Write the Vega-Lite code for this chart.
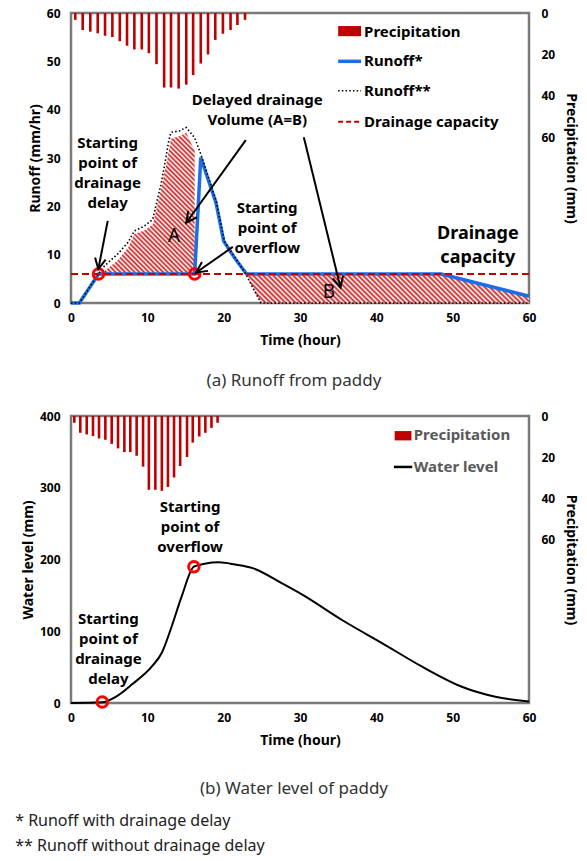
{
  "$schema": "https://vega.github.io/schema/vega-lite/v6.json",
  "padding": {"left": 15, "top": 5, "right": 3, "bottom": 5},
  "background": "white",
  "config": {
    "font": "Noto Sans",
    "view": {"stroke": "#7a7a7a", "strokeWidth": 2.5},
    "axis": {"labelFont": "Noto Sans", "labelFontWeight": "bold", "labelFontSize": 12, "labelColor": "#000", "titleFont": "Noto Sans", "titleFontSize": 14, "titleFontWeight": "bold", "titleColor": "#000", "ticks": false, "grid": false, "domain": false, "labelPadding": 11, "titlePadding": 4},
    "axisX": {"labelPadding": 9, "titlePadding": 10, "labelFlush": false},
    "title": {"font": "Noto Sans", "fontWeight": "normal", "color": "#333"}
  },
  "title": {"text": ["* Runoff with drainage delay", "** Runoff without drainage delay"], "orient": "bottom", "anchor": "start", "frame": "bounds", "fontSize": 16, "lineHeight": 25, "offset": 15, "dx": -5, "color": "#222"},
  "spacing": 17,
  "vconcat": [
    {
      "width": 458, "height": 290,
      "title": {"text": "(a) Runoff from paddy", "orient": "bottom", "fontSize": 17, "offset": 26, "anchor": "middle", "frame": "group", "dx": -6},
      "resolve": {"scale": {"y": "independent"}, "axis": {"y": "independent"}},
      "layer": [
        {
          "data": {"values": [
            {"t": 0.56, "p": 3.3}, {"t": 1.53, "p": 8.2}, {"t": 2.53, "p": 9.0}, {"t": 3.5, "p": 9.8}, {"t": 4.46, "p": 11.0}, {"t": 5.42, "p": 11.6},
            {"t": 6.39, "p": 13.6}, {"t": 7.34, "p": 15.8}, {"t": 8.3, "p": 17.6}, {"t": 9.27, "p": 17.6}, {"t": 10.2, "p": 19.4}, {"t": 11.2, "p": 24.7},
            {"t": 12.2, "p": 36.0}, {"t": 13.1, "p": 36.0}, {"t": 14.1, "p": 36.5}, {"t": 15.1, "p": 34.6}, {"t": 16.0, "p": 30.0}, {"t": 17.0, "p": 24.4},
            {"t": 17.95, "p": 20.0}, {"t": 18.9, "p": 13.0}, {"t": 19.9, "p": 10.0}, {"t": 20.9, "p": 8.2}, {"t": 21.8, "p": 5.8}, {"t": 22.8, "p": 3.3}
          ]},
          "mark": {"type": "bar", "orient": "vertical", "size": 2.6, "color": "#c00000"},
          "encoding": {
            "x": {"field": "t", "type": "quantitative", "scale": {"domain": [0, 60], "nice": false, "padding": 0}, "axis": {"values": [0, 10, 20, 30, 40, 50, 60], "title": "Time (hour)"}},
            "y": {"field": "p", "type": "quantitative", "scale": {"domain": [0, 140], "reverse": true, "nice": false, "padding": 0}, "axis": {"orient": "right", "values": [0, 20, 40, 60], "title": "Precipitation (mm)", "labelPadding": 12, "titlePadding": 9}}
          }
        },
        {
          "layer": [
            {
              "data": {"values": [
                {"t": 3.6, "top": 6, "bot": 6}, {"t": 4.4, "top": 6.6, "bot": 6}, {"t": 6.1, "top": 8.8, "bot": 6},
                {"t": 7.5, "top": 11.5, "bot": 6}, {"t": 8.3, "top": 14.3, "bot": 6}, {"t": 9.6, "top": 15.0, "bot": 6},
                {"t": 10.7, "top": 16.2, "bot": 6}, {"t": 11.8, "top": 23.5, "bot": 6}, {"t": 12.7, "top": 30.5, "bot": 6},
                {"t": 13.1, "top": 34.0, "bot": 6}, {"t": 14.2, "top": 34.5, "bot": 6}, {"t": 15.1, "top": 35.2, "bot": 6},
                {"t": 15.9, "top": 32.5, "bot": 6}, {"t": 16.2, "top": 31.5, "bot": 6}
              ]},
              "mark": {"type": "area", "orient": "vertical", "color": {"gradient": "linear", "x1": 0, "y1": 1, "x2": 0.782, "y2": -0.148, "stops": [
                {"offset": 0, "color": "#cc1a1a"}, {"offset": 0.01, "color": "#ffffff"}, {"offset": 0.02, "color": "#cc1a1a"}, {"offset": 0.03, "color": "#ffffff"}, {"offset": 0.04, "color": "#cc1a1a"}, {"offset": 0.05, "color": "#ffffff"}, {"offset": 0.06, "color": "#cc1a1a"}, {"offset": 0.07, "color": "#ffffff"}, {"offset": 0.08, "color": "#cc1a1a"}, {"offset": 0.09, "color": "#ffffff"},
                {"offset": 0.1, "color": "#cc1a1a"}, {"offset": 0.11, "color": "#ffffff"}, {"offset": 0.12, "color": "#cc1a1a"}, {"offset": 0.13, "color": "#ffffff"}, {"offset": 0.14, "color": "#cc1a1a"}, {"offset": 0.15, "color": "#ffffff"}, {"offset": 0.16, "color": "#cc1a1a"}, {"offset": 0.17, "color": "#ffffff"}, {"offset": 0.18, "color": "#cc1a1a"}, {"offset": 0.19, "color": "#ffffff"},
                {"offset": 0.2, "color": "#cc1a1a"}, {"offset": 0.21, "color": "#ffffff"}, {"offset": 0.22, "color": "#cc1a1a"}, {"offset": 0.23, "color": "#ffffff"}, {"offset": 0.24, "color": "#cc1a1a"}, {"offset": 0.25, "color": "#ffffff"}, {"offset": 0.26, "color": "#cc1a1a"}, {"offset": 0.27, "color": "#ffffff"}, {"offset": 0.28, "color": "#cc1a1a"}, {"offset": 0.29, "color": "#ffffff"},
                {"offset": 0.3, "color": "#cc1a1a"}, {"offset": 0.31, "color": "#ffffff"}, {"offset": 0.32, "color": "#cc1a1a"}, {"offset": 0.33, "color": "#ffffff"}, {"offset": 0.34, "color": "#cc1a1a"}, {"offset": 0.35, "color": "#ffffff"}, {"offset": 0.36, "color": "#cc1a1a"}, {"offset": 0.37, "color": "#ffffff"}, {"offset": 0.38, "color": "#cc1a1a"}, {"offset": 0.39, "color": "#ffffff"},
                {"offset": 0.4, "color": "#cc1a1a"}, {"offset": 0.41, "color": "#ffffff"}, {"offset": 0.42, "color": "#cc1a1a"}, {"offset": 0.43, "color": "#ffffff"}, {"offset": 0.44, "color": "#cc1a1a"}, {"offset": 0.45, "color": "#ffffff"}, {"offset": 0.46, "color": "#cc1a1a"}, {"offset": 0.47, "color": "#ffffff"}, {"offset": 0.48, "color": "#cc1a1a"}, {"offset": 0.49, "color": "#ffffff"},
                {"offset": 0.5, "color": "#cc1a1a"}, {"offset": 0.51, "color": "#ffffff"}, {"offset": 0.52, "color": "#cc1a1a"}, {"offset": 0.53, "color": "#ffffff"}, {"offset": 0.54, "color": "#cc1a1a"}, {"offset": 0.55, "color": "#ffffff"}, {"offset": 0.56, "color": "#cc1a1a"}, {"offset": 0.57, "color": "#ffffff"}, {"offset": 0.58, "color": "#cc1a1a"}, {"offset": 0.59, "color": "#ffffff"},
                {"offset": 0.6, "color": "#cc1a1a"}, {"offset": 0.61, "color": "#ffffff"}, {"offset": 0.62, "color": "#cc1a1a"}, {"offset": 0.63, "color": "#ffffff"}, {"offset": 0.64, "color": "#cc1a1a"}, {"offset": 0.65, "color": "#ffffff"}, {"offset": 0.66, "color": "#cc1a1a"}, {"offset": 0.67, "color": "#ffffff"}, {"offset": 0.68, "color": "#cc1a1a"}, {"offset": 0.69, "color": "#ffffff"},
                {"offset": 0.7, "color": "#cc1a1a"}, {"offset": 0.71, "color": "#ffffff"}, {"offset": 0.72, "color": "#cc1a1a"}, {"offset": 0.73, "color": "#ffffff"}, {"offset": 0.74, "color": "#cc1a1a"}, {"offset": 0.75, "color": "#ffffff"}, {"offset": 0.76, "color": "#cc1a1a"}, {"offset": 0.77, "color": "#ffffff"}, {"offset": 0.78, "color": "#cc1a1a"}, {"offset": 0.79, "color": "#ffffff"},
                {"offset": 0.8, "color": "#cc1a1a"}, {"offset": 0.81, "color": "#ffffff"}, {"offset": 0.82, "color": "#cc1a1a"}, {"offset": 0.83, "color": "#ffffff"}, {"offset": 0.84, "color": "#cc1a1a"}, {"offset": 0.85, "color": "#ffffff"}, {"offset": 0.86, "color": "#cc1a1a"}, {"offset": 0.87, "color": "#ffffff"}, {"offset": 0.88, "color": "#cc1a1a"}, {"offset": 0.89, "color": "#ffffff"},
                {"offset": 0.9, "color": "#cc1a1a"}, {"offset": 0.91, "color": "#ffffff"}, {"offset": 0.92, "color": "#cc1a1a"}, {"offset": 0.93, "color": "#ffffff"}, {"offset": 0.94, "color": "#cc1a1a"}, {"offset": 0.95, "color": "#ffffff"}, {"offset": 0.96, "color": "#cc1a1a"}, {"offset": 0.97, "color": "#ffffff"}, {"offset": 0.98, "color": "#cc1a1a"}, {"offset": 0.99, "color": "#ffffff"},
                {"offset": 1, "color": "#cc1a1a"}
              ]}},
              "encoding": {
                "x": {"field": "t", "type": "quantitative"},
                "y": {"field": "top", "type": "quantitative", "scale": {"domain": [0, 60], "nice": false}, "axis": {"orient": "left", "values": [0, 10, 20, 30, 40, 50, 60], "title": "Runoff (mm/hr)"}},
                "y2": {"field": "bot"}
              }
            },
            {
              "data": {"values": [
                {"t": 22.9, "top": 6, "bot": 6}, {"t": 23.8, "top": 6, "bot": 3.2}, {"t": 24.9, "top": 6, "bot": 0},
                {"t": 48.5, "top": 6, "bot": 0}, {"t": 60, "top": 1.4, "bot": 0}
              ]},
              "mark": {"type": "area", "orient": "vertical", "color": {"gradient": "linear", "x1": 0, "y1": 1, "x2": 1.091, "y2": 0.888, "stops": [
                {"offset": 0, "color": "#cc1a1a"}, {"offset": 0.008, "color": "#ffffff"}, {"offset": 0.016, "color": "#cc1a1a"}, {"offset": 0.024, "color": "#ffffff"}, {"offset": 0.032, "color": "#cc1a1a"}, {"offset": 0.04, "color": "#ffffff"}, {"offset": 0.048, "color": "#cc1a1a"}, {"offset": 0.056, "color": "#ffffff"}, {"offset": 0.064, "color": "#cc1a1a"}, {"offset": 0.072, "color": "#ffffff"},
                {"offset": 0.08, "color": "#cc1a1a"}, {"offset": 0.088, "color": "#ffffff"}, {"offset": 0.096, "color": "#cc1a1a"}, {"offset": 0.104, "color": "#ffffff"}, {"offset": 0.112, "color": "#cc1a1a"}, {"offset": 0.12, "color": "#ffffff"}, {"offset": 0.128, "color": "#cc1a1a"}, {"offset": 0.136, "color": "#ffffff"}, {"offset": 0.144, "color": "#cc1a1a"}, {"offset": 0.152, "color": "#ffffff"},
                {"offset": 0.16, "color": "#cc1a1a"}, {"offset": 0.168, "color": "#ffffff"}, {"offset": 0.176, "color": "#cc1a1a"}, {"offset": 0.184, "color": "#ffffff"}, {"offset": 0.192, "color": "#cc1a1a"}, {"offset": 0.2, "color": "#ffffff"}, {"offset": 0.208, "color": "#cc1a1a"}, {"offset": 0.216, "color": "#ffffff"}, {"offset": 0.224, "color": "#cc1a1a"}, {"offset": 0.232, "color": "#ffffff"},
                {"offset": 0.24, "color": "#cc1a1a"}, {"offset": 0.248, "color": "#ffffff"}, {"offset": 0.256, "color": "#cc1a1a"}, {"offset": 0.264, "color": "#ffffff"}, {"offset": 0.272, "color": "#cc1a1a"}, {"offset": 0.28, "color": "#ffffff"}, {"offset": 0.288, "color": "#cc1a1a"}, {"offset": 0.296, "color": "#ffffff"}, {"offset": 0.304, "color": "#cc1a1a"}, {"offset": 0.312, "color": "#ffffff"},
                {"offset": 0.32, "color": "#cc1a1a"}, {"offset": 0.328, "color": "#ffffff"}, {"offset": 0.336, "color": "#cc1a1a"}, {"offset": 0.344, "color": "#ffffff"}, {"offset": 0.352, "color": "#cc1a1a"}, {"offset": 0.36, "color": "#ffffff"}, {"offset": 0.368, "color": "#cc1a1a"}, {"offset": 0.376, "color": "#ffffff"}, {"offset": 0.384, "color": "#cc1a1a"}, {"offset": 0.392, "color": "#ffffff"},
                {"offset": 0.4, "color": "#cc1a1a"}, {"offset": 0.408, "color": "#ffffff"}, {"offset": 0.416, "color": "#cc1a1a"}, {"offset": 0.424, "color": "#ffffff"}, {"offset": 0.432, "color": "#cc1a1a"}, {"offset": 0.44, "color": "#ffffff"}, {"offset": 0.448, "color": "#cc1a1a"}, {"offset": 0.456, "color": "#ffffff"}, {"offset": 0.464, "color": "#cc1a1a"}, {"offset": 0.472, "color": "#ffffff"},
                {"offset": 0.48, "color": "#cc1a1a"}, {"offset": 0.488, "color": "#ffffff"}, {"offset": 0.496, "color": "#cc1a1a"}, {"offset": 0.504, "color": "#ffffff"}, {"offset": 0.512, "color": "#cc1a1a"}, {"offset": 0.52, "color": "#ffffff"}, {"offset": 0.528, "color": "#cc1a1a"}, {"offset": 0.536, "color": "#ffffff"}, {"offset": 0.544, "color": "#cc1a1a"}, {"offset": 0.552, "color": "#ffffff"},
                {"offset": 0.56, "color": "#cc1a1a"}, {"offset": 0.568, "color": "#ffffff"}, {"offset": 0.576, "color": "#cc1a1a"}, {"offset": 0.584, "color": "#ffffff"}, {"offset": 0.592, "color": "#cc1a1a"}, {"offset": 0.6, "color": "#ffffff"}, {"offset": 0.608, "color": "#cc1a1a"}, {"offset": 0.616, "color": "#ffffff"}, {"offset": 0.624, "color": "#cc1a1a"}, {"offset": 0.632, "color": "#ffffff"},
                {"offset": 0.64, "color": "#cc1a1a"}, {"offset": 0.648, "color": "#ffffff"}, {"offset": 0.656, "color": "#cc1a1a"}, {"offset": 0.664, "color": "#ffffff"}, {"offset": 0.672, "color": "#cc1a1a"}, {"offset": 0.68, "color": "#ffffff"}, {"offset": 0.688, "color": "#cc1a1a"}, {"offset": 0.696, "color": "#ffffff"}, {"offset": 0.704, "color": "#cc1a1a"}, {"offset": 0.712, "color": "#ffffff"},
                {"offset": 0.72, "color": "#cc1a1a"}, {"offset": 0.728, "color": "#ffffff"}, {"offset": 0.736, "color": "#cc1a1a"}, {"offset": 0.744, "color": "#ffffff"}, {"offset": 0.752, "color": "#cc1a1a"}, {"offset": 0.76, "color": "#ffffff"}, {"offset": 0.768, "color": "#cc1a1a"}, {"offset": 0.776, "color": "#ffffff"}, {"offset": 0.784, "color": "#cc1a1a"}, {"offset": 0.792, "color": "#ffffff"},
                {"offset": 0.8, "color": "#cc1a1a"}, {"offset": 0.808, "color": "#ffffff"}, {"offset": 0.816, "color": "#cc1a1a"}, {"offset": 0.824, "color": "#ffffff"}, {"offset": 0.832, "color": "#cc1a1a"}, {"offset": 0.84, "color": "#ffffff"}, {"offset": 0.848, "color": "#cc1a1a"}, {"offset": 0.856, "color": "#ffffff"}, {"offset": 0.864, "color": "#cc1a1a"}, {"offset": 0.872, "color": "#ffffff"},
                {"offset": 0.88, "color": "#cc1a1a"}, {"offset": 0.888, "color": "#ffffff"}, {"offset": 0.896, "color": "#cc1a1a"}, {"offset": 0.904, "color": "#ffffff"}, {"offset": 0.912, "color": "#cc1a1a"}, {"offset": 0.92, "color": "#ffffff"}, {"offset": 0.928, "color": "#cc1a1a"}, {"offset": 0.936, "color": "#ffffff"}, {"offset": 0.944, "color": "#cc1a1a"}, {"offset": 0.952, "color": "#ffffff"},
                {"offset": 0.96, "color": "#cc1a1a"}, {"offset": 0.968, "color": "#ffffff"}, {"offset": 0.976, "color": "#cc1a1a"}, {"offset": 0.984, "color": "#ffffff"}, {"offset": 0.992, "color": "#cc1a1a"}, {"offset": 1, "color": "#ffffff"}
              ]}},
              "encoding": {
                "x": {"field": "t", "type": "quantitative"},
                "y": {"field": "top", "type": "quantitative"},
                "y2": {"field": "bot"}
              }
            },
            {
              "data": {"values": [
                {"t": 0, "v": 0}, {"t": 1.1, "v": 0}, {"t": 3.6, "v": 6}, {"t": 16.2, "v": 6}, {"t": 17.0, "v": 30.1}, {"t": 19.0, "v": 20.7},
                {"t": 20.0, "v": 12.8}, {"t": 21.4, "v": 9.4}, {"t": 23.0, "v": 6}, {"t": 48.5, "v": 6}, {"t": 60, "v": 1.4}
              ]},
              "mark": {"type": "line", "color": "#1a6ee8", "strokeWidth": 3.5},
              "encoding": {"x": {"field": "t", "type": "quantitative"}, "y": {"field": "v", "type": "quantitative"}}
            },
            {
              "data": {"values": [
                {"t": 0, "v": 0}, {"t": 1.1, "v": 0}, {"t": 3.6, "v": 6}, {"t": 4.4, "v": 7.7}, {"t": 6.1, "v": 10.1}, {"t": 7.5, "v": 12.6},
                {"t": 8.3, "v": 14.9}, {"t": 9.6, "v": 15.9}, {"t": 10.7, "v": 17.3}, {"t": 11.8, "v": 24.6}, {"t": 12.2, "v": 28.0}, {"t": 12.8, "v": 33.5},
                {"t": 13.1, "v": 35.3}, {"t": 14.2, "v": 35.6}, {"t": 15.1, "v": 36.3}, {"t": 16.2, "v": 34.2}, {"t": 17.0, "v": 30.8}, {"t": 19.0, "v": 21.2},
                {"t": 20.1, "v": 12.8}, {"t": 21.4, "v": 9.6}, {"t": 22.9, "v": 6}, {"t": 23.8, "v": 3.2}, {"t": 24.9, "v": 0}, {"t": 60, "v": 0}
              ]},
              "mark": {"type": "line", "color": "#000", "strokeWidth": 1.6, "strokeDash": [1.5, 2.2]},
              "encoding": {"x": {"field": "t", "type": "quantitative"}, "y": {"field": "v", "type": "quantitative"}}
            },
            {
              "data": {"values": [{"t": 0, "v": 6}, {"t": 60, "v": 6}]},
              "mark": {"type": "line", "color": "#c00000", "strokeWidth": 2, "strokeDash": [7, 4]},
              "encoding": {"x": {"field": "t", "type": "quantitative"}, "y": {"field": "v", "type": "quantitative"}}
            },
            {
              "data": {"values": [{"t": 3.6, "v": 6}, {"t": 16.2, "v": 6}]},
              "mark": {"type": "point", "shape": "circle", "filled": false, "color": "#ff0000", "strokeWidth": 3, "size": 110, "opacity": 1},
              "encoding": {"x": {"field": "t", "type": "quantitative"}, "y": {"field": "v", "type": "quantitative"}}
            },
            {
              "data": {"values": [
                {"t": 4.81, "v": 17.0, "t2": 3.58, "v2": 7.0, "ang": 191},
                {"t": 22.9, "v": 33.7, "t2": 15.1, "v2": 16.6, "ang": 216},
                {"t": 30.5, "v": 34.3, "t2": 35.3, "v2": 3.2, "ang": 166.3},
                {"t": 21.2, "v": 11.6, "t2": 16.4, "v2": 6.3, "ang": 235.4}
              ]},
              "layer": [
                {
                  "mark": {"type": "rule", "color": "#000", "strokeWidth": 2},
                  "encoding": {"x": {"field": "t", "type": "quantitative"}, "y": {"field": "v", "type": "quantitative"}, "x2": {"field": "t2"}, "y2": {"field": "v2"}}
                },
                {
                  "mark": {"type": "point", "shape": "M-0.55,1.1L0,0L0.55,1.1", "filled": false, "color": "#000", "strokeWidth": 2, "size": 380, "opacity": 1},
                  "encoding": {"x": {"field": "t2", "type": "quantitative"}, "y": {"field": "v2", "type": "quantitative"}, "angle": {"field": "ang", "type": "quantitative", "scale": null}}
                }
              ]
            },
            {
              "data": {"values": [
                {"t": 4.8, "v": 33.17, "s": "Starting\npoint of\ndrainage\ndelay"},
                {"t": 24.4, "v": 42.0, "s": "Delayed drainage\nVolume (A=B)"},
                {"t": 25.7, "v": 19.7, "s": "Starting\npoint of\noverflow"}
              ]},
              "mark": {"type": "text", "fontWeight": "bold", "fontSize": 15, "lineHeight": 20, "lineBreak": "\n", "align": "center", "baseline": "middle", "color": "#000"},
              "encoding": {"x": {"field": "t", "type": "quantitative"}, "y": {"field": "v", "type": "quantitative"}, "text": {"field": "s"}}
            },
            {
              "data": {"values": [
                {"t": 53.3, "v": 14.2, "s": "Drainage\ncapacity"}
              ]},
              "mark": {"type": "text", "fontWeight": "bold", "fontSize": 18, "lineHeight": 24, "lineBreak": "\n", "align": "center", "baseline": "middle", "color": "#000"},
              "encoding": {"x": {"field": "t", "type": "quantitative"}, "y": {"field": "v", "type": "quantitative"}, "text": {"field": "s"}}
            },
            {
              "data": {"values": [
                {"t": 13.5, "v": 13.9, "s": "A"},
                {"t": 33.8, "v": 2.3, "s": "B"}
              ]},
              "mark": {"type": "text", "fontWeight": "normal", "fontSize": 19, "align": "center", "baseline": "middle", "color": "#000"},
              "encoding": {"x": {"field": "t", "type": "quantitative"}, "y": {"field": "v", "type": "quantitative"}, "text": {"field": "s"}}
            },
            {
              "data": {"values": [{"t": 35.0, "t2": 38.0, "v": 57.3, "v2": 55.2}]},
              "mark": {"type": "rect", "color": "#c00000"},
              "encoding": {"x": {"field": "t", "type": "quantitative"}, "x2": {"field": "t2"}, "y": {"field": "v", "type": "quantitative"}, "y2": {"field": "v2"}}
            },
            {
              "data": {"values": [{"t": 35.0, "t2": 38.0, "v": 50.0}]},
              "mark": {"type": "rule", "color": "#1a6ee8", "strokeWidth": 3.5},
              "encoding": {"x": {"field": "t", "type": "quantitative"}, "x2": {"field": "t2"}, "y": {"field": "v", "type": "quantitative"}}
            },
            {
              "data": {"values": [{"t": 35.0, "t2": 38.0, "v": 43.9}]},
              "mark": {"type": "rule", "color": "#000", "strokeWidth": 1.6, "strokeDash": [1.5, 2.2]},
              "encoding": {"x": {"field": "t", "type": "quantitative"}, "x2": {"field": "t2"}, "y": {"field": "v", "type": "quantitative"}}
            },
            {
              "data": {"values": [{"t": 35.0, "t2": 38.0, "v": 37.5}]},
              "mark": {"type": "rule", "color": "#c00000", "strokeWidth": 2, "strokeDash": [5, 3]},
              "encoding": {"x": {"field": "t", "type": "quantitative"}, "x2": {"field": "t2"}, "y": {"field": "v", "type": "quantitative"}}
            },
            {
              "data": {"values": [
                {"t": 38.4, "v": 56.1, "s": "Precipitation"},
                {"t": 38.4, "v": 50.0, "s": "Runoff*"},
                {"t": 38.4, "v": 43.9, "s": "Runoff**"},
                {"t": 38.4, "v": 37.5, "s": "Drainage capacity"}
              ]},
              "mark": {"type": "text", "fontWeight": "bold", "fontSize": 15, "align": "left", "baseline": "middle", "color": "#000"},
              "encoding": {"x": {"field": "t", "type": "quantitative"}, "y": {"field": "v", "type": "quantitative"}, "text": {"field": "s"}}
            }
          ]
        }
      ]
    },
    {
      "width": 458, "height": 287,
      "title": {"text": "(b) Water level of paddy", "orient": "bottom", "fontSize": 17, "offset": 34, "anchor": "middle", "frame": "group", "dx": -6},
      "resolve": {"scale": {"y": "independent"}, "axis": {"y": "independent"}},
      "layer": [
        {
          "data": {"values": [
            {"t": 0.43, "p": 3.3}, {"t": 1.22, "p": 8.2}, {"t": 2.06, "p": 9.0}, {"t": 2.88, "p": 9.8}, {"t": 3.67, "p": 11.0}, {"t": 4.5, "p": 11.6},
            {"t": 5.33, "p": 13.6}, {"t": 6.16, "p": 15.8}, {"t": 6.99, "p": 17.6}, {"t": 7.77, "p": 17.6}, {"t": 8.6, "p": 19.4}, {"t": 9.44, "p": 24.7},
            {"t": 10.2, "p": 36.0}, {"t": 11.05, "p": 36.0}, {"t": 11.9, "p": 36.5}, {"t": 12.7, "p": 34.6}, {"t": 13.5, "p": 30.0}, {"t": 14.3, "p": 24.4},
            {"t": 15.2, "p": 20.0}, {"t": 15.95, "p": 13.0}, {"t": 16.8, "p": 10.0}, {"t": 17.6, "p": 8.2}, {"t": 18.4, "p": 5.8}, {"t": 19.2, "p": 3.3}
          ]},
          "mark": {"type": "bar", "orient": "vertical", "size": 2.6, "color": "#c00000"},
          "encoding": {
            "x": {"field": "t", "type": "quantitative", "scale": {"domain": [0, 60], "nice": false, "padding": 0}, "axis": {"values": [0, 10, 20, 30, 40, 50, 60], "title": "Time (hour)"}},
            "y": {"field": "p", "type": "quantitative", "scale": {"domain": [0, 140], "reverse": true, "nice": false, "padding": 0}, "axis": {"orient": "right", "values": [0, 20, 40, 60], "title": "Precipitation (mm)", "labelPadding": 12, "titlePadding": 9}}
          }
        },
        {
          "layer": [
            {
              "data": {"values": [
                {"t": 0, "v": 0}, {"t": 4.1, "v": 1}, {"t": 6.0, "v": 9.5}, {"t": 8.0, "v": 26}, {"t": 10.6, "v": 51}, {"t": 11.9, "v": 70},
                {"t": 13.2, "v": 107}, {"t": 14.5, "v": 148.6}, {"t": 16.1, "v": 190}, {"t": 17.5, "v": 194}, {"t": 19.4, "v": 196}, {"t": 21.5, "v": 193},
                {"t": 23.9, "v": 187.6}, {"t": 27.6, "v": 167}, {"t": 30.3, "v": 151}, {"t": 35.5, "v": 115.7}, {"t": 40.8, "v": 83.2}, {"t": 46.0, "v": 50.6},
                {"t": 51.2, "v": 22.7}, {"t": 55.6, "v": 8.8}, {"t": 60, "v": 2}
              ]},
              "mark": {"type": "line", "color": "#000", "strokeWidth": 2, "interpolate": "monotone"},
              "encoding": {
                "x": {"field": "t", "type": "quantitative"},
                "y": {"field": "v", "type": "quantitative", "scale": {"domain": [0, 400], "nice": false}, "axis": {"orient": "left", "values": [0, 50, 100, 150, 200, 250, 300, 350, 400], "title": "Water level (mm)"}}
              }
            },
            {
              "data": {"values": [{"t": 4.1, "v": 1.5}, {"t": 16.1, "v": 190}]},
              "mark": {"type": "point", "shape": "circle", "filled": false, "color": "#ff0000", "strokeWidth": 3, "size": 110, "opacity": 1},
              "encoding": {"x": {"field": "t", "type": "quantitative"}, "y": {"field": "v", "type": "quantitative"}}
            },
            {
              "data": {"values": [
                {"t": 4.9, "v": 117.2, "s": "Starting\npoint of\ndrainage\ndelay"},
                {"t": 15.6, "v": 273.6, "s": "Starting\npoint of\noverflow"}
              ]},
              "mark": {"type": "text", "fontWeight": "bold", "fontSize": 15, "lineHeight": 20, "lineBreak": "\n", "align": "center", "baseline": "middle", "color": "#000"},
              "encoding": {"x": {"field": "t", "type": "quantitative"}, "y": {"field": "v", "type": "quantitative"}, "text": {"field": "s"}}
            },
            {
              "data": {"values": [{"t": 42.4, "t2": 44.6, "v": 379, "v2": 366}]},
              "mark": {"type": "rect", "color": "#c00000"},
              "encoding": {"x": {"field": "t", "type": "quantitative"}, "x2": {"field": "t2"}, "y": {"field": "v", "type": "quantitative"}, "y2": {"field": "v2"}}
            },
            {
              "data": {"values": [{"t": 42.3, "t2": 44.7, "v": 329}]},
              "mark": {"type": "rule", "color": "#000", "strokeWidth": 2.5},
              "encoding": {"x": {"field": "t", "type": "quantitative"}, "x2": {"field": "t2"}, "y": {"field": "v", "type": "quantitative"}}
            },
            {
              "data": {"values": [
                {"t": 44.9, "v": 373, "s": "Precipitation"},
                {"t": 44.9, "v": 329, "s": "Water level"}
              ]},
              "mark": {"type": "text", "fontWeight": "bold", "fontSize": 15, "align": "left", "baseline": "middle", "color": "#595959"},
              "encoding": {"x": {"field": "t", "type": "quantitative"}, "y": {"field": "v", "type": "quantitative"}, "text": {"field": "s"}}
            }
          ]
        }
      ]
    }
  ]
}
